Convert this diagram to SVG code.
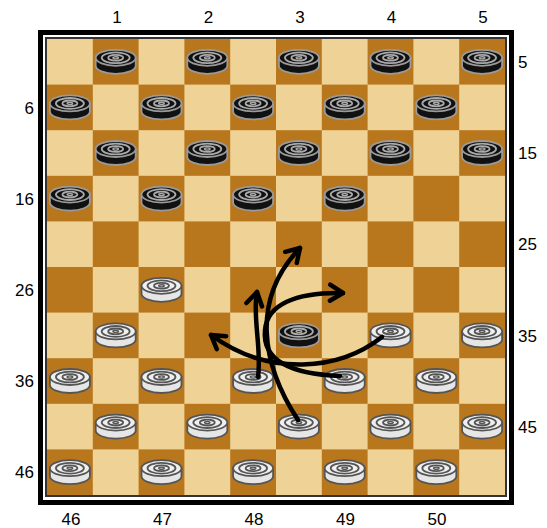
<svg xmlns="http://www.w3.org/2000/svg" xmlns:xlink="http://www.w3.org/1999/xlink" width="547" height="528" viewBox="0 0 547 528">
<style>
.lbl{font-family:"Liberation Sans",Arial,sans-serif;font-size:17px;fill:#000}
.mid{text-anchor:middle}
.end{text-anchor:end}
.lt{fill:#EFD295}
.dk{fill:#B8771C}
.arrow{fill:none;stroke:#000;stroke-width:4.5;stroke-linecap:round;stroke-linejoin:round;marker-end:url(#head)}
</style>
<defs>
<marker id="head" markerUnits="userSpaceOnUse" markerWidth="40" markerHeight="40" refX="0" refY="0" orient="auto" overflow="visible">
<path d="M-13,-8 L0,0 L-13,8" fill="none" stroke="#000" stroke-width="4.5" stroke-linecap="round" stroke-linejoin="round"/>
</marker>
<g id="black">
<path d="M-20,-4 V4 A20,8 0 0 0 20,4 V-4 Z" fill="#111" stroke="#9a9a9a" stroke-width="1.8"/>
<ellipse cx="0" cy="-4" rx="20" ry="8" fill="#111" stroke="#9a9a9a" stroke-width="1.8"/>
<ellipse cx="0" cy="-4" rx="14" ry="5.4" fill="none" stroke="#aaa" stroke-width="1.8"/>
<ellipse cx="0" cy="-4" rx="7.5" ry="2.9" fill="none" stroke="#aaa" stroke-width="1.8"/>
<ellipse cx="0" cy="-4" rx="2.8" ry="1.1" fill="none" stroke="#aaa" stroke-width="1.4"/>
</g>
<g id="white">
<path d="M-20,-4 V4 A20,8 0 0 0 20,4 V-4 Z" fill="#e6e6e6" stroke="#555" stroke-width="1.8"/>
<ellipse cx="0" cy="-4" rx="20" ry="8" fill="#efefef" stroke="#555" stroke-width="1.8"/>
<ellipse cx="0" cy="-4" rx="14" ry="5.4" fill="none" stroke="#555" stroke-width="1.8"/>
<ellipse cx="0" cy="-4" rx="7.5" ry="2.9" fill="none" stroke="#555" stroke-width="1.8"/>
<ellipse cx="0" cy="-4" rx="2.8" ry="1.1" fill="none" stroke="#555" stroke-width="1.4"/>
</g>
</defs>
<rect width="547" height="528" fill="#fff"/>
<g id="frame">
<rect x="40.5" y="32.5" width="471" height="470" fill="none" stroke="#000" stroke-width="5"/>
<rect x="46" y="38" width="460" height="458" fill="none" stroke="#333" stroke-width="2"/>
</g>
<g id="board">
<rect x="47" y="39" width="458" height="456" class="lt"/>
<g class="dk">
<rect x="92.8" y="39" width="45.8" height="45.6"/><rect x="184.4" y="39" width="45.8" height="45.6"/><rect x="276" y="39" width="45.8" height="45.6"/><rect x="367.6" y="39" width="45.8" height="45.6"/><rect x="459.2" y="39" width="45.8" height="45.6"/>
<rect x="47" y="84.6" width="45.8" height="45.6"/><rect x="138.6" y="84.6" width="45.8" height="45.6"/><rect x="230.2" y="84.6" width="45.8" height="45.6"/><rect x="321.8" y="84.6" width="45.8" height="45.6"/><rect x="413.4" y="84.6" width="45.8" height="45.6"/>
<rect x="92.8" y="130.2" width="45.8" height="45.6"/><rect x="184.4" y="130.2" width="45.8" height="45.6"/><rect x="276" y="130.2" width="45.8" height="45.6"/><rect x="367.6" y="130.2" width="45.8" height="45.6"/><rect x="459.2" y="130.2" width="45.8" height="45.6"/>
<rect x="47" y="175.8" width="45.8" height="45.6"/><rect x="138.6" y="175.8" width="45.8" height="45.6"/><rect x="230.2" y="175.8" width="45.8" height="45.6"/><rect x="321.8" y="175.8" width="45.8" height="45.6"/><rect x="413.4" y="175.8" width="45.8" height="45.6"/>
<rect x="92.8" y="221.4" width="45.8" height="45.6"/><rect x="184.4" y="221.4" width="45.8" height="45.6"/><rect x="276" y="221.4" width="45.8" height="45.6"/><rect x="367.6" y="221.4" width="45.8" height="45.6"/><rect x="459.2" y="221.4" width="45.8" height="45.6"/>
<rect x="47" y="267" width="45.8" height="45.6"/><rect x="138.6" y="267" width="45.8" height="45.6"/><rect x="230.2" y="267" width="45.8" height="45.6"/><rect x="321.8" y="267" width="45.8" height="45.6"/><rect x="413.4" y="267" width="45.8" height="45.6"/>
<rect x="92.8" y="312.6" width="45.8" height="45.6"/><rect x="184.4" y="312.6" width="45.8" height="45.6"/><rect x="276" y="312.6" width="45.8" height="45.6"/><rect x="367.6" y="312.6" width="45.8" height="45.6"/><rect x="459.2" y="312.6" width="45.8" height="45.6"/>
<rect x="47" y="358.2" width="45.8" height="45.6"/><rect x="138.6" y="358.2" width="45.8" height="45.6"/><rect x="230.2" y="358.2" width="45.8" height="45.6"/><rect x="321.8" y="358.2" width="45.8" height="45.6"/><rect x="413.4" y="358.2" width="45.8" height="45.6"/>
<rect x="92.8" y="403.8" width="45.8" height="45.6"/><rect x="184.4" y="403.8" width="45.8" height="45.6"/><rect x="276" y="403.8" width="45.8" height="45.6"/><rect x="367.6" y="403.8" width="45.8" height="45.6"/><rect x="459.2" y="403.8" width="45.8" height="45.6"/>
<rect x="47" y="449.4" width="45.8" height="45.6"/><rect x="138.6" y="449.4" width="45.8" height="45.6"/><rect x="230.2" y="449.4" width="45.8" height="45.6"/><rect x="321.8" y="449.4" width="45.8" height="45.6"/><rect x="413.4" y="449.4" width="45.8" height="45.6"/>
</g>
</g>
<g id="labels" class="lbl">
<text class="mid" x="117" y="23">1</text>
<text class="mid" x="208.5" y="23">2</text>
<text class="mid" x="300" y="23">3</text>
<text class="mid" x="391.5" y="23">4</text>
<text class="mid" x="483" y="23">5</text>
<text class="end" x="34" y="113.5">6</text>
<text class="end" x="34" y="204.7">16</text>
<text class="end" x="34" y="295.9">26</text>
<text class="end" x="34" y="387.1">36</text>
<text class="end" x="34" y="478.3">46</text>
<text x="518" y="68">5</text>
<text x="518" y="159.2">15</text>
<text x="518" y="250.4">25</text>
<text x="518" y="341.6">35</text>
<text x="518" y="432.8">45</text>
<text class="mid" x="71" y="525">46</text>
<text class="mid" x="162.5" y="525">47</text>
<text class="mid" x="254" y="525">48</text>
<text class="mid" x="345.5" y="525">49</text>
<text class="mid" x="437" y="525">50</text>
</g>
<g id="pieces">
<g id="p1"><use xlink:href="#black" href="#black" x="115.7" y="61.8"/></g>
<g id="p2"><use xlink:href="#black" href="#black" x="207.3" y="61.8"/></g>
<g id="p3"><use xlink:href="#black" href="#black" x="298.9" y="61.8"/></g>
<g id="p4"><use xlink:href="#black" href="#black" x="390.5" y="61.8"/></g>
<g id="p5"><use xlink:href="#black" href="#black" x="482.1" y="61.8"/></g>
<g id="p6"><use xlink:href="#black" href="#black" x="69.9" y="107.4"/></g>
<g id="p7"><use xlink:href="#black" href="#black" x="161.5" y="107.4"/></g>
<g id="p8"><use xlink:href="#black" href="#black" x="253.1" y="107.4"/></g>
<g id="p9"><use xlink:href="#black" href="#black" x="344.7" y="107.4"/></g>
<g id="p10"><use xlink:href="#black" href="#black" x="436.3" y="107.4"/></g>
<g id="p11"><use xlink:href="#black" href="#black" x="115.7" y="153"/></g>
<g id="p12"><use xlink:href="#black" href="#black" x="207.3" y="153"/></g>
<g id="p13"><use xlink:href="#black" href="#black" x="298.9" y="153"/></g>
<g id="p14"><use xlink:href="#black" href="#black" x="390.5" y="153"/></g>
<g id="p15"><use xlink:href="#black" href="#black" x="482.1" y="153"/></g>
<g id="p16"><use xlink:href="#black" href="#black" x="69.9" y="198.6"/></g>
<g id="p17"><use xlink:href="#black" href="#black" x="161.5" y="198.6"/></g>
<g id="p18"><use xlink:href="#black" href="#black" x="253.1" y="198.6"/></g>
<g id="p19"><use xlink:href="#black" href="#black" x="344.7" y="198.6"/></g>
<g id="p27"><use xlink:href="#white" href="#white" x="161.5" y="289.8"/></g>
<g id="p31"><use xlink:href="#white" href="#white" x="115.7" y="335.4"/></g>
<g id="p33"><use xlink:href="#black" href="#black" x="298.9" y="335.4"/></g>
<g id="p34"><use xlink:href="#white" href="#white" x="390.5" y="335.4"/></g>
<g id="p35"><use xlink:href="#white" href="#white" x="482.1" y="335.4"/></g>
<g id="p36"><use xlink:href="#white" href="#white" x="69.9" y="381"/></g>
<g id="p37"><use xlink:href="#white" href="#white" x="161.5" y="381"/></g>
<g id="p38"><use xlink:href="#white" href="#white" x="253.1" y="381"/></g>
<g id="p39"><use xlink:href="#white" href="#white" x="344.7" y="381"/></g>
<g id="p40"><use xlink:href="#white" href="#white" x="436.3" y="381"/></g>
<g id="p41"><use xlink:href="#white" href="#white" x="115.7" y="426.6"/></g>
<g id="p42"><use xlink:href="#white" href="#white" x="207.3" y="426.6"/></g>
<g id="p43"><use xlink:href="#white" href="#white" x="298.9" y="426.6"/></g>
<g id="p44"><use xlink:href="#white" href="#white" x="390.5" y="426.6"/></g>
<g id="p45"><use xlink:href="#white" href="#white" x="482.1" y="426.6"/></g>
<g id="p46"><use xlink:href="#white" href="#white" x="69.9" y="472.2"/></g>
<g id="p47"><use xlink:href="#white" href="#white" x="161.5" y="472.2"/></g>
<g id="p48"><use xlink:href="#white" href="#white" x="253.1" y="472.2"/></g>
<g id="p49"><use xlink:href="#white" href="#white" x="344.7" y="472.2"/></g>
<g id="p50"><use xlink:href="#white" href="#white" x="436.3" y="472.2"/></g>
</g>
<g id="connectors">
<path class="arrow" d="M298,420 C262,365 250,300 300,248"/>
<path class="arrow" d="M340,376 C290,374 262,360 265,330 C267,305 295,292 343,293"/>
<path class="arrow" d="M258,377 C262,350 252,315 257,292"/>
<path class="arrow" d="M382,337 C340,370 270,378 211,335"/>
</g>
</svg>
